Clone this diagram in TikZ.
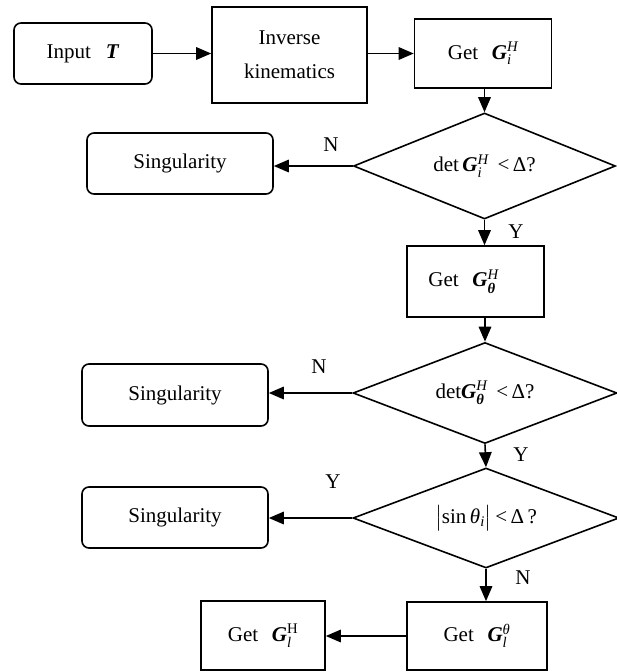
\documentclass[tikz,border=0pt]{standalone}
\usepackage{amsmath}
\usepackage{fontspec}
\setmainfont{Liberation Serif}
\usetikzlibrary{shapes.geometric,arrows.meta}
\newcommand{\bG}{\textbf{\textit{G}}}
\begin{document}
\begin{tikzpicture}[x=1pt,y=-1pt,
  font=\fontsize{21}{34}\selectfont,
  rbox/.style={draw, line width=1.6pt, rounded corners=7pt, align=center, inner sep=0pt},
  sbox/.style={draw, line width=1.6pt, align=center, inner sep=0pt},
  dec/.style={draw, diamond, aspect=2.5, line width=1.6pt, inner sep=0pt},
  arr/.style={line width=1.6pt, -{Triangle[length=15pt,width=12.5pt]}},
  lbl/.style={inner sep=0pt}]
\useasboundingbox (0,0) rectangle (616,672);
% top row
\node[rbox, minimum width=138pt, minimum height=61pt] (in) at (83,53.5) {Input\hspace{0.7em}\textbf{\textit{T}}};
\node[sbox, minimum width=155pt, minimum height=96pt] (inv) at (289.5,55) {Inverse\\kinematics};
\node[sbox, minimum width=137pt, minimum height=69pt] (get1) at (483,53.5) {Get\hspace{0.65em}\bG$^{\textit{H}}_{\textit{i}}$};
% first decision
\node[dec, minimum width=262pt, minimum height=106pt] (dia1) at (484.5,166) {det\,\bG$^{\textit{H}}_{\textit{i}}$ \,<\,Δ?};
\node[rbox, minimum width=186pt, minimum height=61pt] (s1) at (180,163.5) {Singularity};
\node[sbox, minimum width=137pt, minimum height=71pt] (get2) at (475.5,281.5) {Get\hspace{0.65em}\bG$^{\textit{H}}_{\textbf{\textit{θ}}}$\hspace*{24pt}};
% second decision
\node[dec, minimum width=264pt, minimum height=101pt] (dia2) at (485,393) {det\bG$^{\textit{H}}_{\textbf{\textit{θ}}}$ \,<\,Δ?};
\node[rbox, minimum width=186pt, minimum height=62pt] (s2) at (175,395) {Singularity};
% third decision
\node[dec, minimum width=266pt, minimum height=100pt] (dia3) at (486,518) {$\bigl|\text{sin\,}\textit{θ}_{\textit{i}}\bigr|$\,<\,Δ\,?};
\node[rbox, minimum width=186pt, minimum height=61pt] (s3) at (175,517.5) {Singularity};
% bottom row
\node[sbox, minimum width=140pt, minimum height=68pt] (get3) at (477,636) {Get\hspace{0.65em}\bG$^{\textit{θ}}_{\textit{l}}$};
\node[sbox, minimum width=124pt, minimum height=69pt] (get4) at (263,635.5) {Get\hspace{0.65em}\bG$^{\text{H}}_{\textit{l}}$};
% connectors
\draw[arr] (in.east) -- (in.east -| inv.west);
\draw[arr] (get1.west -| inv.east) -- (get1.west);
\draw[arr] (get1.south -| dia1.north) -- (dia1.north);
\draw[arr] (dia1.west) -- (dia1.west -| s1.east);
\draw[arr] (dia1.south) -- (dia1.south |- get2.north);
\draw[arr] (get2.south -| dia2.north) -- (dia2.north);
\draw[arr] (dia2.west) -- (dia2.west -| s2.east);
\draw[arr] (dia2.south) -- (dia3.north);
\draw[arr] (dia3.west) -- (dia3.west -| s3.east);
\draw[arr] (dia3.south) -- (dia3.south |- get3.north);
\draw[arr] (get3.west) -- (get3.west -| get4.east);
% labels
\node[lbl] (n1) at (331,145) {N};
\node[lbl] (y1) at (516,232) {Y};
\node[lbl] (n2) at (319,367) {N};
\node[lbl] (y2) at (521,455) {Y};
\node[lbl] (y3) at (333,482) {Y};
\node[lbl] (n3) at (523,578) {N};
\end{tikzpicture}
\end{document}
